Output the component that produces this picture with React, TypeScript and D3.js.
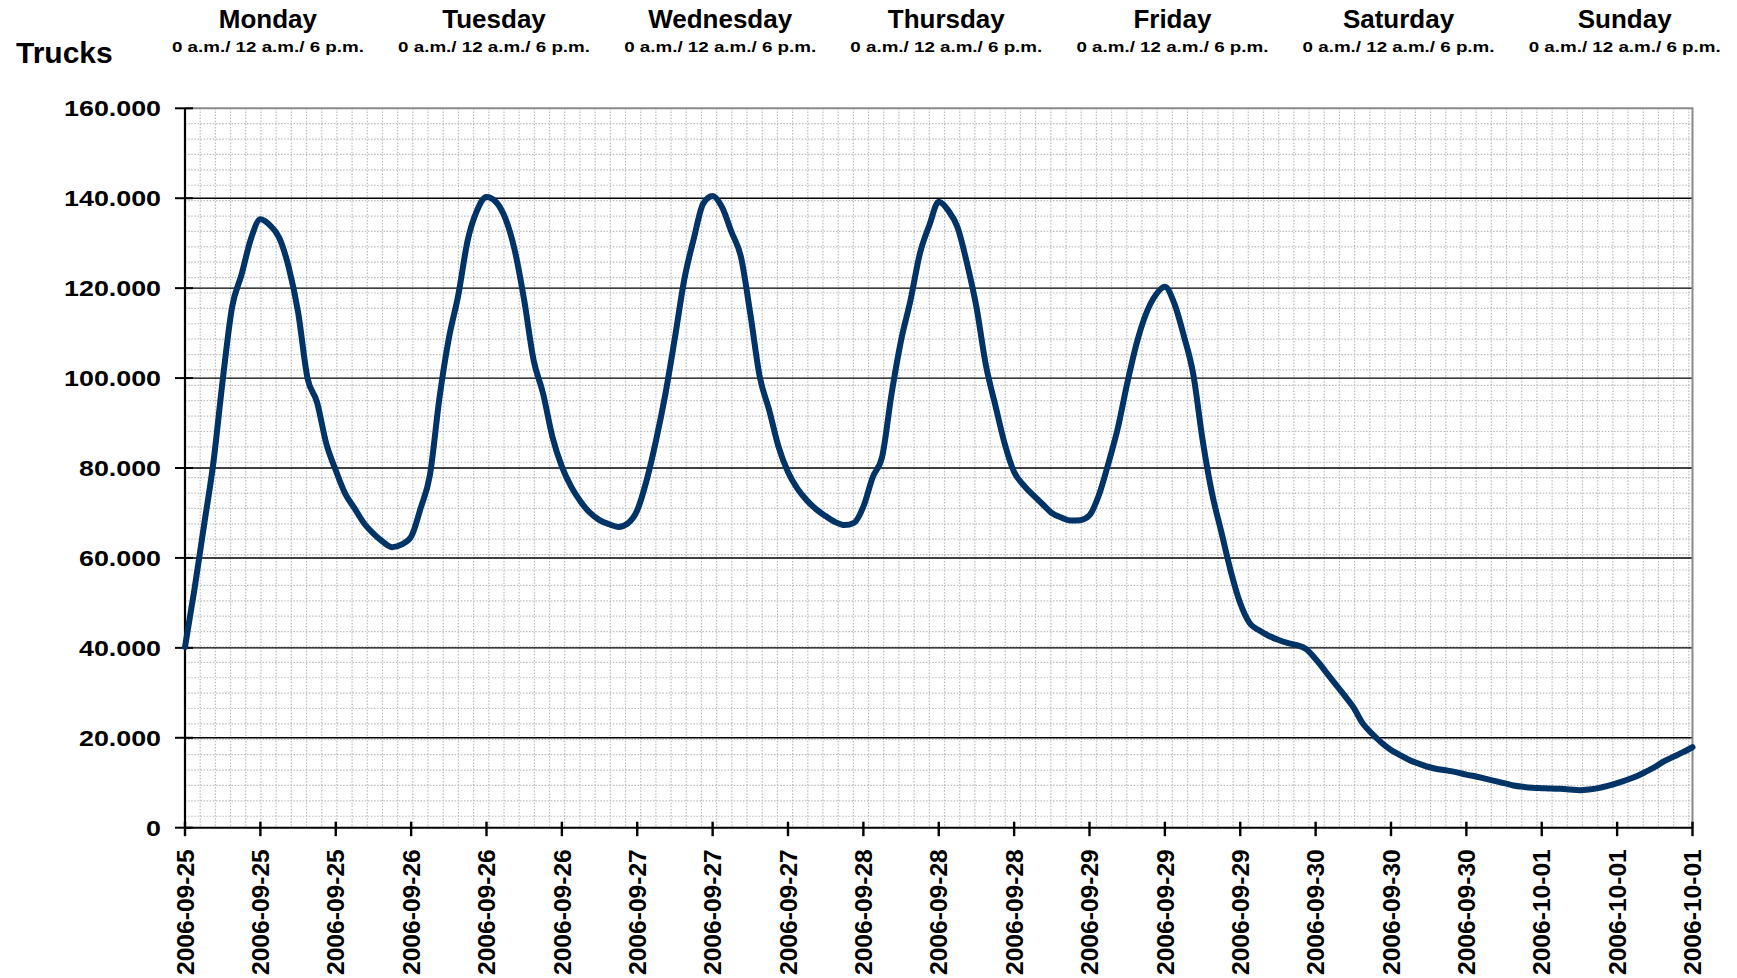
import React, { useEffect, useRef } from "react";
import * as d3 from "d3";

// hourly truck counts, Mon 2006-09-25 00:00 .. Sun 2006-10-01 16:00
const hourlyTrucks = [
  40200, 53000, 67000, 81000, 99500, 115800, 123000, 131000, 135300, 134000,
  131200, 124700, 114700, 100000, 94700, 85400, 79500, 74300, 71000, 67700,
  65400, 63600, 62400, 63000, 64700, 71000, 78500, 95500, 108800, 118400,
  130600, 137300, 140300, 139200, 135500, 128400, 117300, 104000, 96600, 86900,
  80300, 75800, 72500, 70000, 68400, 67500, 66900, 67700, 70600, 77300,
  86200, 96600, 109000, 122000, 131000, 138800, 140500, 138000, 132500, 127000,
  114300, 100300, 92900, 84700, 79100, 75400, 72800, 70800, 69300, 68000,
  67300, 67800, 71400, 78000, 82600, 96600, 108400, 117300, 127700, 134000,
  139200, 137300, 133500, 125500, 115800, 102900, 94000, 85400, 79100, 76200,
  74000, 72000, 70000, 69000, 68300, 68400, 69500, 74000, 81000, 88800,
  98800, 107700, 114300, 118400, 120300, 116600, 109500, 101000, 86300, 74400,
  65700, 57000, 49900, 45500, 43900, 42700, 41800, 41100, 40600, 39700,
  37500, 34900, 32200, 29600, 26800, 23200, 20900, 18900, 17300, 16100,
  15000, 14200, 13500, 13000, 12700, 12300, 11800, 11400, 10900, 10400,
  9900, 9400, 9100, 8900, 8800, 8700, 8650, 8500, 8350, 8500,
  8800, 9300, 9900, 10600, 11400, 12400, 13500, 14800, 15800, 16800,
  17900,
];

const xTickLabels = [
  "2006-09-25", "2006-09-25", "2006-09-25",
  "2006-09-26", "2006-09-26", "2006-09-26",
  "2006-09-27", "2006-09-27", "2006-09-27",
  "2006-09-28", "2006-09-28", "2006-09-28",
  "2006-09-29", "2006-09-29", "2006-09-29",
  "2006-09-30", "2006-09-30", "2006-09-30",
  "2006-10-01", "2006-10-01", "2006-10-01",
];
const xTickStep = 8; // hours between category labels

const yTicks = [0, 20000, 40000, 60000, 80000, 100000, 120000, 140000, 160000];
const yTickLabels = ["0", "20.000", "40.000", "60.000", "80.000", "100.000", "120.000", "140.000", "160.000"];

const dayNames = ["Monday", "Tuesday", "Wednesday", "Thursday", "Friday", "Saturday", "Sunday"];
const daySubLabel = "0 a.m./ 12 a.m./ 6 p.m.";
const yTitle = "Trucks";

const W = 1737;
const H = 978;
const FONT = "'Liberation Sans', Arial, Helvetica, sans-serif";

export default function App() {
  const svgRef = useRef<SVGSVGElement | null>(null);

  useEffect(() => {
    if (!svgRef.current) return;
    const svg = d3.select(svgRef.current);
    svg.selectAll("*").remove();

    const left = 185;
    const right = 1692.5;
    const top = 108.3;
    const bottom = 827.7;

    const x = d3.scaleLinear().domain([0, hourlyTrucks.length - 1]).range([left, right]);
    const y = d3.scaleLinear().domain([0, 160000]).range([bottom, top]);

    svg.append("rect").attr("width", W).attr("height", H).attr("fill", "#ffffff");

    // dotted background grid of the plot area
    const minor = svg.append("g").attr("stroke", "#bcbcbc").attr("stroke-width", 1.2)
      .attr("stroke-dasharray", "1.5,1.6");
    d3.range(left + 15.19, right - 2, 15.19).forEach((vx) => {
      minor.append("line").attr("x1", vx).attr("x2", vx).attr("y1", top).attr("y2", bottom);
    });
    d3.range(top + 15.39, bottom - 2, 15.39).forEach((vy) => {
      minor.append("line").attr("x1", left).attr("x2", right).attr("y1", vy).attr("y2", vy);
    });

    // major gridlines
    svg.append("g").selectAll("line")
      .data(yTicks.filter((t) => t > 0 && t < 160000))
      .join("line")
      .attr("x1", left).attr("x2", right)
      .attr("y1", (d) => y(d)).attr("y2", (d) => y(d))
      .attr("stroke", "#000").attr("stroke-width", 1.4);

    // plot border (top/right grey)
    svg.append("path")
      .attr("d", `M${left},${top}H${right}V${bottom}`)
      .attr("fill", "none").attr("stroke", "#8a8a8a").attr("stroke-width", 2);

    // axes
    svg.append("line").attr("x1", left).attr("x2", left).attr("y1", top).attr("y2", bottom)
      .attr("stroke", "#000").attr("stroke-width", 2.2);
    svg.append("line").attr("x1", left).attr("x2", right).attr("y1", bottom).attr("y2", bottom)
      .attr("stroke", "#000").attr("stroke-width", 2);

    // y ticks + labels
    const yg = svg.append("g");
    yg.selectAll("line").data(yTicks).join("line")
      .attr("x1", left - 10).attr("x2", left + 8)
      .attr("y1", (d) => y(d)).attr("y2", (d) => y(d))
      .attr("stroke", "#000").attr("stroke-width", 2);
    yg.selectAll("text").data(yTicks).join("text")
      .attr("transform", (d) => `translate(161,${y(d)}) scale(1.22,1)`)
      .attr("dy", "0.36em")
      .attr("text-anchor", "end")
      .attr("font-family", FONT).attr("font-weight", "bold").attr("font-size", 22)
      .attr("fill", "#000")
      .text((_, i) => yTickLabels[i]);

    // x ticks + rotated labels
    const xg = svg.append("g");
    xTickLabels.forEach((lab, i) => {
      const tx = x(i * xTickStep);
      xg.append("line").attr("x1", tx).attr("x2", tx).attr("y1", bottom - 6).attr("y2", bottom + 8.5)
        .attr("stroke", "#000").attr("stroke-width", 2.4);
      xg.append("text")
        .attr("transform", `translate(${tx},${bottom + 21.5}) rotate(-90)`)
        .attr("dy", "0.35em")
        .attr("text-anchor", "end")
        .attr("font-family", FONT).attr("font-weight", "bold").attr("font-size", 24.6)
        .attr("fill", "#000")
        .text(lab);
    });

    // the series
    const line = d3.line<number>()
      .x((_, i) => x(i))
      .y((d) => y(d))
      .curve(d3.curveMonotoneX);
    svg.append("path")
      .datum(hourlyTrucks)
      .attr("fill", "none")
      .attr("stroke", "#003366")
      .attr("stroke-width", 6)
      .attr("stroke-linejoin", "round")
      .attr("stroke-linecap", "round")
      .attr("d", line);

    // day headers
    const hg = svg.append("g").attr("font-family", FONT).attr("font-weight", "bold").attr("fill", "#000");
    dayNames.forEach((name, d) => {
      const cx = x(d * 24 + 8.8);
      hg.append("text").attr("x", cx).attr("y", 27.5).attr("text-anchor", "middle")
        .attr("font-size", 26).text(name);
      hg.append("text")
        .attr("transform", `translate(${cx},52) scale(1.22,1)`)
        .attr("text-anchor", "middle").attr("font-size", 15.4).text(daySubLabel);
    });

    svg.append("text").attr("x", 16).attr("y", 63)
      .attr("font-family", FONT).attr("font-weight", "bold").attr("font-size", 30)
      .attr("fill", "#000").text(yTitle);
  }, []);

  return (
    <svg
      ref={svgRef}
      width={W}
      height={H}
      style={{ position: "absolute", left: 0, top: 0, display: "block" }}
    />
  );
}
